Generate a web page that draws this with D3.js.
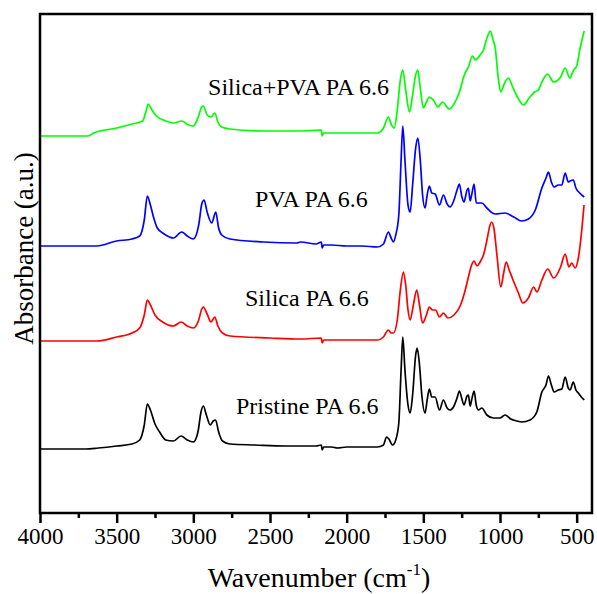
<!DOCTYPE html>
<html><head><meta charset="utf-8">
<script src="https://cdn.jsdelivr.net/npm/d3@7"></script>
<style>
html,body{margin:0;padding:0;background:#fff;}
svg text{font-family:"Liberation Serif","Times New Roman",serif;fill:#000;}
</style></head>
<body><svg id="chart" width="597" height="594"></svg>
<script>
// ---- data ----
const seriesNames = ["Pristine PA 6.6", "Silica PA 6.6", "PVA PA 6.6", "Silica+PVA PA 6.6"];
const seriesColors = ["#000000", "#ff0000", "#0000ff", "#00ff00"];
const seriesOffsets = [64, 172, 267, 377];
const xTickValues = [4000, 3500, 3000, 2500, 2000, 1500, 1000, 500];
const xMinorTicks = [3750, 3250, 2750, 2250, 1750, 1250, 750];
// label anchor: [wavenumber at text start, absorbance (a.u.) at text baseline]
const labelAnchors = [[2722, 99], [2663, 207], [2598, 306], [2904, 418]];

const pristineW = [4000,3700,3620,3500,3400,3350,3320,3300,3280,3250,3220,3180,3130,3080,3040,3000,2970,2950,2935,2915,2890,2870,2855,2835,2810,2760,2600,2400,2300,2200,2165,2160,2150,2100,2060,2000,1900,1800,1760,1740,1725,1700,1680,1660,1645,1634,1620,1600,1586,1570,1550,1540,1525,1510,1489,1475,1461,1445,1423,1395,1369,1345,1326,1300,1280,1265,1250,1235,1215,1206,1195,1185,1169,1155,1140,1119,1086,1043,1000,967,930,890,858,804,760,727,700,684,665,647,620,597,575,555,543,522,505,489,470,451];
const pristineA = [0,0,1,3,5,9,24,45,39,25,17,9,8,13,9,7,17,37,43,34,24,28,29,17,8,5,4,3,3,3,4,-1,2,2,1,2,2,2,4,12,10,4,9,26,79,112,79,44,36,54,94,101,84,54,36,49,60,52,52,39,49,41,39,43,51,58,51,44,53,54,43,49,58,44,39,41,34,31,31,34,30,28,27,29,37,57,64,73,64,57,59,60,72,61,59,67,59,56,52,49];

const silicaW = [4000,3630,3500,3400,3350,3320,3300,3280,3250,3200,3130,3080,3040,3000,2965,2945,2935,2910,2885,2860,2840,2810,2760,2500,2300,2165,2160,2150,2000,1800,1760,1728,1710,1695,1670,1650,1630,1615,1600,1586,1565,1543,1525,1505,1480,1461,1440,1420,1395,1369,1340,1300,1260,1230,1206,1185,1169,1150,1130,1108,1085,1065,1054,1040,1020,995,975,960,940,915,880,851,815,780,760,727,689,650,605,575,550,532,510,488,470,452];
const silicaA = [0,0,4,8,13,26,41,36,26,19,15,19,15,13,21,32,34,27,19,24,15,8,5,3,2,3,-2,1,1,1,4,11,8,8,21,51,69,56,31,21,36,51,36,18,26,34,31,31,24,28,23,26,35,49,64,76,80,75,79,86,101,116,119,113,86,54,69,79,71,61,48,38,43,54,49,61,72,63,74,87,74,78,73,84,106,136];

const pvaW = [4000,3630,3500,3400,3350,3320,3300,3280,3260,3235,3190,3130,3076,3040,3000,2965,2945,2930,2910,2880,2854,2835,2815,2761,2543,2326,2300,2200,2165,2160,2150,2100,2000,1900,1800,1760,1728,1710,1695,1680,1660,1645,1634,1620,1600,1586,1570,1550,1536,1520,1505,1489,1475,1461,1445,1423,1395,1369,1345,1326,1300,1280,1265,1250,1235,1215,1206,1195,1185,1169,1155,1119,1086,1032,967,910,858,815,770,727,700,684,665,647,620,597,575,555,543,522,505,480,451];
const pvaA = [0,0,5,7,10,26,50,41,29,18,12,8,14,10,7,21,42,46,34,23,34,18,11,7,4,3,4,2,4,-2,1,1,0,0,-1,2,14,8,4,11,31,86,120,86,41,34,61,98,108,86,51,38,51,60,53,52,41,51,42,39,46,56,62,50,44,56,58,45,51,62,43,43,38,32,33,29,25,27,36,58,68,74,64,59,61,61,73,64,65,66,58,53,49];

const hybridW = [4000,3685,3650,3500,3400,3330,3310,3294,3270,3240,3180,3130,3076,3030,3000,2970,2945,2935,2910,2885,2860,2840,2815,2760,2543,2326,2165,2160,2150,2000,1800,1760,1728,1710,1690,1670,1650,1634,1615,1590,1570,1550,1536,1520,1500,1480,1461,1435,1405,1375,1330,1300,1265,1230,1206,1180,1160,1130,1108,1085,1063,1045,1032,1010,995,970,945,920,890,847,810,775,750,727,690,650,605,575,545,520,500,480,451];
const hybridA = [0,0,3,8,12,15,24,32,26,20,15,13,15,11,10,18,29,30,21,19,23,14,9,7,5,5,6,0,3,3,3,8,19,12,8,26,56,66,46,24,41,61,66,48,28,34,39,36,29,34,27,32,44,62,69,80,76,81,86,98,105,96,89,56,44,53,58,50,40,31,38,44,46,54,62,54,59,68,58,66,70,86,105];

const spectraW = [pristineW, silicaW, pvaW, hybridW];
const spectraA = [pristineA, silicaA, pvaA, hybridA];

// ---- chart ----
const svg = d3.select("#chart");
const L = 40, R = 592, T = 14, B = 513;
const x = d3.scaleLinear().domain([4000, 400]).range([L, R]);
const y = d3.scaleLinear().domain([0, 499]).range([B, T]);

const line = d3.line().x(d => x(d[0])).y(d => y(d[1])).curve(d3.curveMonotoneX);

spectraW.forEach((ws, i) => {
  const pts = ws.map((w, j) => [w, spectraA[i][j] + seriesOffsets[i]]);
  svg.append("path").datum(pts)
    .attr("d", line)
    .attr("fill", "none")
    .attr("stroke", seriesColors[i])
    .attr("stroke-width", 1.7)
    .attr("stroke-linejoin", "round");
});

// labels
labelAnchors.forEach((a, i) => {
  svg.append("text")
    .attr("x", x(a[0]))
    .attr("y", y(a[1]))
    .attr("font-size", 24)
    .text(seriesNames[i]);
});

// frame
svg.append("rect").attr("x", L).attr("y", T).attr("width", R - L).attr("height", B - T)
  .attr("fill", "none").attr("stroke", "#000").attr("stroke-width", 2.5);

// x axis
const xAxis = svg.append("g").attr("transform", `translate(0,${B})`)
  .call(d3.axisBottom(x).tickValues(xTickValues).tickSize(10).tickSizeOuter(0).tickPadding(5).tickFormat(d3.format("d")));
xAxis.select(".domain").remove();
xAxis.selectAll(".tick line").attr("stroke-width", 2.5);
xAxis.selectAll(".tick text").attr("font-size", 23).attr("font-family", "Liberation Serif, serif");

const xMinor = svg.append("g").attr("transform", `translate(0,${B})`)
  .call(d3.axisBottom(x).tickValues(xMinorTicks).tickSize(5).tickFormat(""));
xMinor.select(".domain").remove();
xMinor.selectAll(".tick line").attr("stroke-width", 2.5);

// axis titles
const xt = svg.append("text").attr("x", (L + R) / 2 + 3).attr("y", 587)
  .attr("text-anchor", "middle").attr("font-size", 28);
xt.append("tspan").text("Wavenumber (cm");
xt.append("tspan").attr("font-size", 17).attr("dy", -12).text("-1");
xt.append("tspan").attr("dy", 12).text(")");

svg.append("text")
  .attr("transform", `translate(33,${(T + B) / 2 - 15}) rotate(-90)`)
  .attr("text-anchor", "middle").attr("font-size", 27)
  .text("Absorbance (a.u.)");
</script></body></html>
